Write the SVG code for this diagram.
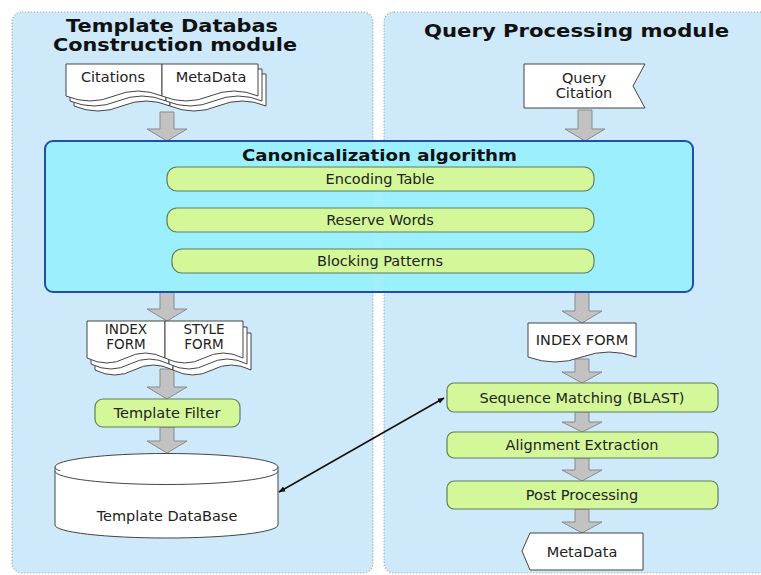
<svg xmlns="http://www.w3.org/2000/svg" width="761" height="575" viewBox="0 0 761 575">
<defs>
<style>
.panel{fill:#cde9fa;stroke:#9a9a9a;stroke-width:1.2;stroke-dasharray:1 2}
.title{font-family:"DejaVu Sans",Verdana,sans-serif;font-weight:bold;font-size:17px;fill:#111}
.lbl{font-family:"DejaVu Sans",Verdana,sans-serif;font-size:14.5px;fill:#222;text-anchor:middle}
.sm{font-size:13.5px}
.doc{fill:#fff;stroke:#444;stroke-width:1}
.green{fill:#d4f79a;stroke:#5f7f5f;stroke-width:1.2}
.blk{fill:#c2c2c2;stroke:#8a8a8a;stroke-width:1}
.link{fill:none;stroke:#111;stroke-width:1.5}
</style>
<marker id="ah" viewBox="0 0 10 10" refX="9" refY="5" markerWidth="7" markerHeight="7" orient="auto-start-reverse" markerUnits="userSpaceOnUse">
<path d="M0,1 L10,5 L0,9 Z" fill="#111"/>
</marker>
</defs>
<rect width="761" height="575" fill="#fff"/>
<g id="panels">
<rect class="panel" x="12" y="12" width="361" height="561" rx="10"/>
<rect class="panel" x="384" y="12" width="392" height="561" rx="10"/>
<text class="title" x="66" y="32" textLength="212" lengthAdjust="spacingAndGlyphs">Template Databas</text>
<text class="title" x="53" y="51" textLength="244" lengthAdjust="spacingAndGlyphs">Construction module</text>
<text class="title" x="424" y="37" textLength="305" lengthAdjust="spacingAndGlyphs">Query Processing module</text>
</g>
<g id="connectors">
<path class="blk" d="M160,112 H174 V129 H187 L167,141 L147,129 H160 Z"/>
<path class="blk" d="M578,110 H592 V129 H605 L585,141 L565,129 H578 Z"/>
<path class="blk" d="M160,292 H174 V309 H187 L167,321 L147,309 H160 Z"/>
<path class="blk" d="M575,292 H589 V311 H602 L582,323 L562,311 H575 Z"/>
<path class="blk" d="M160,369 H174 V387 H187 L167,399 L147,387 H160 Z"/>
<path class="blk" d="M575,359 H589 V372 H602 L582,383 L562,372 H575 Z"/>
<path class="blk" d="M160,427 H174 V441 H187 L167,453 L147,441 H160 Z"/>
<path class="blk" d="M575,412 H589 V422 H602 L582,432 L562,422 H575 Z"/>
<path class="blk" d="M575,458 H589 V470 H602 L582,481 L562,470 H575 Z"/>
<path class="blk" d="M575,509 H589 V522 H602 L582,533 L562,522 H575 Z"/>
<line class="link" x1="279" y1="492" x2="444" y2="398" marker-start="url(#ah)" marker-end="url(#ah)"/>
</g>
<g id="citations-metadata">
<path class="doc" d="M74,74 H170 V106 Q146,96 122,106 T74,106 Z"/>
<path class="doc" d="M70,69 H166 V101 Q142,91 118,101 T70,101 Z"/>
<path class="doc" d="M66,64 H162 V96 Q138,86 114,96 T66,96 Z"/>
<path class="doc" d="M170,74 H266 V106 Q242,96 218,106 T170,106 Z"/>
<path class="doc" d="M166,69 H262 V101 Q238,91 214,101 T166,101 Z"/>
<path class="doc" d="M162,64 H258 V96 Q234,86 210,96 T162,96 Z"/>
<text class="lbl" x="113" y="82">Citations</text>
<text class="lbl" x="211" y="82">MetaData</text>
</g>
<g id="query-citation">
<path class="doc" d="M524,64 H645 L633,86 L645,108 H524 Z"/>
<text class="lbl" x="584" y="83">Query</text>
<text class="lbl" x="584" y="98">Citation</text>
</g>
<g id="canonicalization">
<rect x="45" y="141" width="648" height="151" rx="8" fill="#98effd" fill-opacity="0.92" stroke="#1f4fa8" stroke-width="2"/>
<text x="242" y="161" textLength="275" lengthAdjust="spacingAndGlyphs" style="font-family:'DejaVu Sans',Verdana,sans-serif;font-weight:bold;font-size:16px;fill:#111">Canonicalization algorithm</text>
</g>
<g id="encoding-table">
<rect class="green" x="167" y="167" width="427" height="24" rx="10"/>
<text class="lbl" x="380" y="184">Encoding Table</text>
</g>
<g id="reserve-words">
<rect class="green" x="167" y="208" width="427" height="24" rx="10"/>
<text class="lbl" x="380" y="225">Reserve Words</text>
</g>
<g id="blocking-patterns">
<rect class="green" x="172" y="249" width="422" height="24" rx="10"/>
<text class="lbl" x="380" y="266">Blocking Patterns</text>
</g>
<g id="index-style-form">
<path class="doc" d="M95,333 H173 V370 Q153,360 134,370 T95,370 Z"/>
<path class="doc" d="M91,327 H169 V364 Q149,354 130,364 T91,364 Z"/>
<path class="doc" d="M87,321 H165 V358 Q145,348 126,358 T87,358 Z"/>
<path class="doc" d="M173,333 H251 V370 Q231,360 212,370 T173,370 Z"/>
<path class="doc" d="M169,327 H247 V364 Q227,354 208,364 T169,364 Z"/>
<path class="doc" d="M165,321 H243 V358 Q223,348 204,358 T165,358 Z"/>
<text class="lbl sm" x="126" y="334">INDEX</text>
<text class="lbl sm" x="126" y="349">FORM</text>
<text class="lbl sm" x="204" y="334">STYLE</text>
<text class="lbl sm" x="204" y="349">FORM</text>
</g>
<g id="template-filter">
<rect class="green" x="95" y="399" width="145" height="28" rx="8"/>
<text class="lbl" x="167" y="418">Template Filter</text>
</g>
<g id="template-database">
<path class="doc" d="M55,467 V525 A111.5,13 0 0 0 278,525 V467"/>
<ellipse class="doc" cx="166.5" cy="467" rx="111.5" ry="13.5"/>
<path class="doc" fill="none" d="M55,471 A111.5,13.5 0 0 0 278,471"/>
<text class="lbl" x="167" y="521">Template DataBase</text>
</g>
<g id="index-form">
<path class="doc" d="M528,323 H636 V357 Q609,347 582,357 T528,357 Z"/>
<text class="lbl" x="582" y="345">INDEX FORM</text>
</g>
<g id="sequence-matching">
<rect class="green" x="447" y="383" width="271" height="29" rx="7"/>
<text class="lbl" x="582" y="403">Sequence Matching (BLAST)</text>
</g>
<g id="alignment-extraction">
<rect class="green" x="447" y="432" width="271" height="26" rx="7"/>
<text class="lbl" x="582" y="450">Alignment Extraction</text>
</g>
<g id="post-processing">
<rect class="green" x="447" y="481" width="271" height="28" rx="7"/>
<text class="lbl" x="582" y="500">Post Processing</text>
</g>
<g id="metadata-out">
<path class="doc" d="M530,533 H643 V570 H530 L522,551 Z"/>
<text class="lbl" x="582" y="557">MetaData</text>
</g>
</svg>
